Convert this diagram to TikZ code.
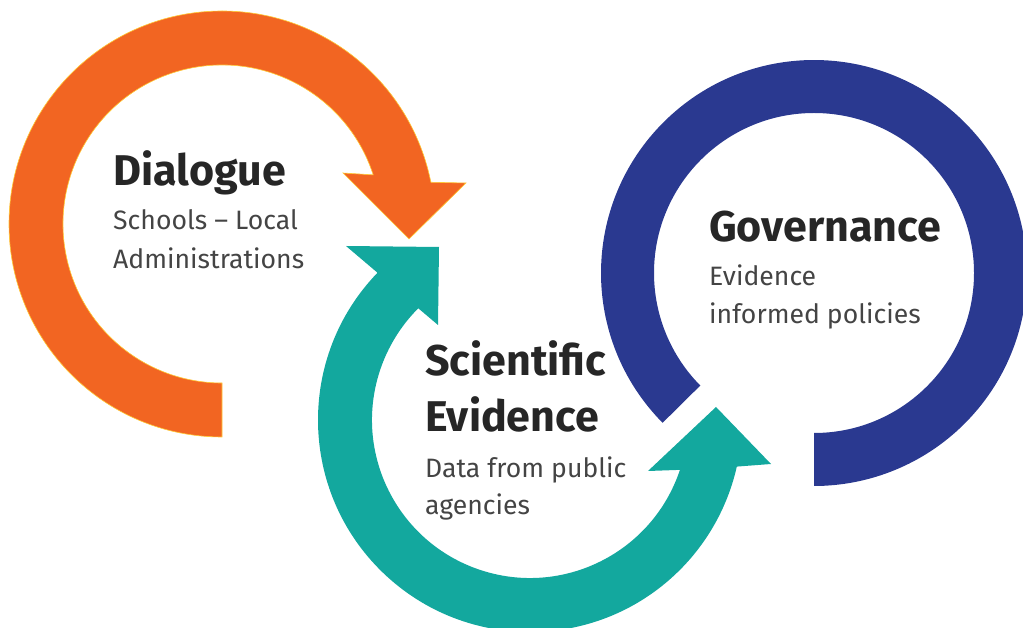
\documentclass[tikz,border=0pt]{standalone}
\usepackage{fontspec}
\setmainfont{Fira Sans}
\usetikzlibrary{calc}
\definecolor{orangeA}{HTML}{F26522}
\definecolor{orangeEdge}{HTML}{FFC935}
\definecolor{tealA}{HTML}{13A89E}
\definecolor{blueA}{HTML}{2A3990}
\definecolor{titleC}{HTML}{262626}
\definecolor{bodyC}{HTML}{444444}
\begin{document}
\begin{tikzpicture}[x=1pt,y=1pt,
  title/.style={anchor=base west, inner sep=0pt, font=\fontsize{43}{48}\selectfont\bfseries, text=titleC},
  body/.style={anchor=base west, inner sep=0pt, font=\fontsize{26.6}{30}\selectfont, text=bodyC}]
\useasboundingbox (0,0) rectangle (1023,627);
% orange arrow
\coordinate (Co) at (222,403);
\path[fill=orangeA, draw=orangeEdge, line width=0.6pt]
  ($(Co)+(270:213)$) arc[start angle=270, end angle=11.3, radius=213]
  -- (466,444) -- (409,388) -- (343,454)
  -- ($(Co)+(18:159)$) arc[start angle=18, end angle=270, radius=159] -- cycle;
% teal double arrow
\coordinate (Ct) at (530,207);
\path[fill=tealA]
  ($(Ct)+(136:212)$) arc[start angle=136, end angle=347.3, radius=212]
  -- (771,163) -- (716,220) -- (648,156)
  -- ($(Ct)+(341.6:158)$) arc[start angle=341.6, end angle=135, radius=158]
  -- (438,302) -- (439,380) -- (346,381) -- cycle;
% blue ring
\coordinate (Cb) at (814,354);
\path[fill=blueA]
  ($(Cb)+(224.7:213)$) arc[start angle=224.7, end angle=-90, radius=213]
  -- ($(Cb)+(-90:160)$) arc[start angle=-90, end angle=224.7, radius=160] -- cycle;
% texts
\node[title] (dlg) at (113,441) {Dialogue};
\node[body] (dlg1) at (113,397) {Schools – Local};
\node[body] (dlg2) at (113,358) {Administrations};
\node[title] (gov) at (709,385) {Governance};
\node[body] (gov1) at (709,341) {Evidence};
\node[body] (gov2) at (709,303) {informed policies};
\node[title] (sci1) at (425,251) {Scientific};
\node[title] (sci2) at (425,195) {Evidence};
\node[body] (sci3) at (425,149) {Data from public};
\node[body] (sci4) at (425,113) {agencies};
\end{tikzpicture}
\end{document}
